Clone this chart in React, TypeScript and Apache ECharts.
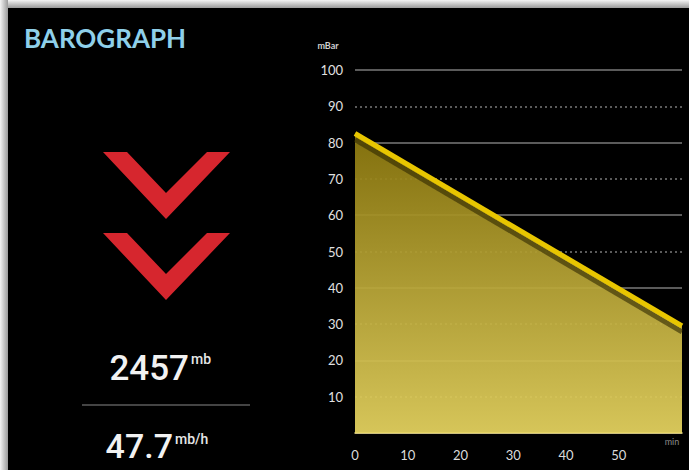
import React, { useEffect, useRef } from "react";
import * as echarts from "echarts";

const xTicks = [0, 10, 20, 30, 40, 50];
const yTicks = [10, 20, 30, 40, 50, 60, 70, 80, 90, 100];
const pressureSeries: [number, number][] = [
  [0, 82.5],
  [62, 29.5],
];
const titleText = "BAROGRAPH";
const pressureValue = "2457";
const pressureUnit = "mb";
const rateValue = "47.7";
const rateUnit = "mb/h";
const yUnit = "mBar";
const xUnit = "min";

export default function App() {
  const ref = useRef<HTMLDivElement>(null);
  useEffect(() => {
    document.body.style.margin = "0";
    const chart = echarts.init(ref.current!, undefined, { renderer: "svg" });
    const red = "#d6262e";
    const chevron = (top: number) => ({
      type: "polygon",
      shape: {
        points: [
          [103, top],
          [127, top],
          [166, top + 41],
          [207, top],
          [230, top],
          [166, top + 67],
        ],
      },
      style: { fill: red },
    });
    chart.setOption({
      animation: false,
      backgroundColor: "#000",
      grid: { left: 355, right: 7, top: 70, bottom: 37 },
      xAxis: {
        type: "value",
        min: 0,
        max: 62,
        interval: 10,
        axisLine: { show: true, lineStyle: { color: "#efe08a", width: 1.5 } },
        axisTick: { show: false },
        splitLine: { show: false },
        axisLabel: {
          color: "#dcdcdc",
          fontSize: 13,
          fontFamily: "Lato",
          margin: 15,
          formatter: (v: number) => (xTicks.includes(v) ? String(v) : ""),
        },
      },
      yAxis: [
        {
          type: "value",
          min: 0,
          max: 100,
          interval: 10,
          axisLine: { show: false },
          axisTick: { show: false },
          splitLine: { show: false },
          axisLabel: {
            color: "#e0e0e0",
            fontSize: 13,
            fontFamily: "Lato",
            margin: 12,
            formatter: (v: number) => (yTicks.includes(v) ? String(v) : ""),
          },
        },
        {
          type: "value",
          min: 0,
          max: 100,
          interval: 20,
          position: "left",
          axisLine: { show: false },
          axisTick: { show: false },
          axisLabel: { show: false },
          splitLine: { show: true, lineStyle: { color: "#7a7a7a", width: 1.5 } },
          minorTick: { show: false, splitNumber: 2 },
          minorSplitLine: {
            show: true,
            lineStyle: { color: "#7a7a7a", width: 1.5, type: [2, 3] },
          },
        },
      ],
      series: [
        {
          type: "line",
          yAxisIndex: 0,
          data: pressureSeries,
          symbol: "none",
          z: 5,
          lineStyle: {
            color: "#e8c600",
            width: 5,
            shadowColor: "rgba(45,38,0,0.6)",
            shadowBlur: 0,
            shadowOffsetY: 6,
          },
          areaStyle: {
            opacity: 1,
            color: new echarts.graphic.LinearGradient(0, 0, 0, 1, [
              { offset: 0, color: "rgba(140,120,14,0.93)" },
              { offset: 1, color: "rgba(230,212,96,0.93)" },
            ]),
          },
        },
      ],
      graphic: [
        {
          type: "rect",
          shape: { x: 0, y: 0, width: 689, height: 8 },
          style: {
            fill: new echarts.graphic.LinearGradient(0, 0, 0, 1, [
              { offset: 0, color: "#f4f4f4" },
              { offset: 1, color: "#9a9a9a" },
            ]),
          },
        },
        {
          type: "rect",
          shape: { x: 0, y: 0, width: 8, height: 470 },
          style: {
            fill: new echarts.graphic.LinearGradient(0, 0, 1, 0, [
              { offset: 0, color: "#f4f4f4" },
              { offset: 1, color: "#9a9a9a" },
            ]),
          },
        },
        {
          type: "text",
          style: {
            text: titleText,
            x: 24,
            y: 38,
            fill: "#8fd0ea",
            font: "bold 26px Lato",
            align: "left",
            verticalAlign: "middle",
          },
        },
        chevron(152),
        chevron(233),
        {
          type: "text",
          style: {
            text: pressureValue,
            x: 189,
            y: 368,
            fill: "#f2f2f2",
            font: "500 35px Roboto",
            align: "right",
            verticalAlign: "middle",
          },
        },
        {
          type: "text",
          style: {
            text: pressureUnit,
            x: 191,
            y: 359,
            fill: "#e6e6e6",
            font: "500 14px Roboto",
            align: "left",
            verticalAlign: "middle",
          },
        },
        {
          type: "line",
          shape: { x1: 82, y1: 405, x2: 250, y2: 405 },
          style: { stroke: "#444", lineWidth: 2 },
        },
        {
          type: "text",
          style: {
            text: rateValue,
            x: 173,
            y: 446,
            fill: "#f2f2f2",
            font: "500 34px Roboto",
            align: "right",
            verticalAlign: "middle",
          },
        },
        {
          type: "text",
          style: {
            text: rateUnit,
            x: 175,
            y: 439,
            fill: "#e6e6e6",
            font: "500 14px Roboto",
            align: "left",
            verticalAlign: "middle",
          },
        },
        {
          type: "text",
          style: {
            text: yUnit,
            x: 328,
            y: 45,
            fill: "#cfcfcf",
            font: "bold 9px Lato",
            align: "center",
            verticalAlign: "middle",
          },
        },
        {
          type: "text",
          style: {
            text: xUnit,
            x: 672,
            y: 441,
            fill: "#8a8a8a",
            font: "9px Lato",
            align: "center",
            verticalAlign: "middle",
          },
        },
      ],
    });
    return () => chart.dispose();
  }, []);
  return <div ref={ref} style={{ width: 689, height: 470 }} />;
}
